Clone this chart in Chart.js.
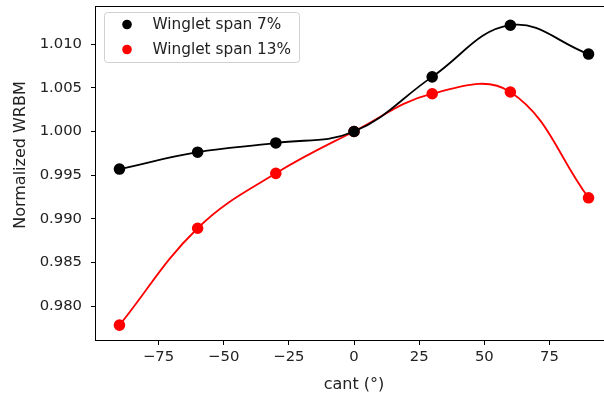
<!DOCTYPE html>
<html>
<head>
<meta charset="utf-8">
<script src="https://cdn.jsdelivr.net/npm/chart.js@4"></script>
<style>
  html, body { margin: 0; padding: 0; background: #fff; overflow: hidden; }
  #wrap { width: 620px; height: 398px; }
</style>
</head>
<body>
<div id="wrap"><canvas id="chart" width="620" height="398"></canvas></div>
<script>
// cant angles (deg)
var cant = [-90, -60, -30, 0, 30, 60, 90];
// normalized WRBM
var span7 = [0.99570, 0.99763, 0.99869, 1.00000, 1.00625, 1.01216, 1.00886];
var span13 = [0.97784, 0.98893, 0.99521, 1.00000, 1.00432, 1.00452, 0.99241];
var seriesNames = ['Winglet span 7%', 'Winglet span 13%'];
var xTicks = [-75, -50, -25, 0, 25, 50, 75];
var yTicks = [0.980, 0.985, 0.990, 0.995, 1.000, 1.005, 1.010];

var FONT = "'DejaVu Sans', sans-serif";
var textColor = '#222';

function toPoints(xs, ys) {
  return xs.map(function (x, i) { return { x: x, y: ys[i] }; });
}

// frame, y label and legend, drawn like matplotlib
var mplExtras = {
  id: 'mplExtras',
  afterDraw: function (chart) {
    var ctx = chart.ctx;
    var a = chart.chartArea;
    ctx.save();
    ctx.strokeStyle = '#000';
    ctx.lineWidth = 1;
    ctx.strokeRect(Math.round(a.left) - 0.5, Math.round(a.top) - 0.5,
      Math.round(a.right - a.left) + 1, Math.round(a.bottom - a.top) + 1);

    // y axis label
    ctx.save();
    ctx.translate(21, 155);
    ctx.rotate(-Math.PI / 2);
    ctx.font = '16px ' + FONT;
    ctx.fillStyle = textColor;
    ctx.textAlign = 'center';
    ctx.textBaseline = 'middle';
    ctx.fillText('Normalized WRBM', 0, 0);
    ctx.restore();

    // legend box
    var bx = 104.5, by = 12.5, bw = 195, bh = 50, r = 3;
    ctx.beginPath();
    ctx.moveTo(bx + r, by);
    ctx.arcTo(bx + bw, by, bx + bw, by + bh, r);
    ctx.arcTo(bx + bw, by + bh, bx, by + bh, r);
    ctx.arcTo(bx, by + bh, bx, by, r);
    ctx.arcTo(bx, by, bx + bw, by, r);
    ctx.closePath();
    ctx.fillStyle = 'rgba(255,255,255,0.8)';
    ctx.fill();
    ctx.strokeStyle = '#d0d0d0';
    ctx.stroke();

    ctx.font = '15.3px ' + FONT;
    ctx.textAlign = 'left';
    ctx.textBaseline = 'middle';
    chart.data.datasets.forEach(function (ds, i) {
      var yy = 24.5 + i * 25;
      ctx.beginPath();
      ctx.arc(127, yy, 4.8, 0, Math.PI * 2);
      ctx.fillStyle = ds.pointBackgroundColor;
      ctx.fill();
      ctx.fillStyle = textColor;
      ctx.fillText(ds.label, 152.5, yy + 1);
    });
    ctx.restore();
  }
};

new Chart(document.getElementById('chart'), {
  type: 'line',
  data: {
    datasets: [{
      label: seriesNames[0],
      data: toPoints(cant, span7),
      borderColor: '#000000',
      backgroundColor: '#000000',
      pointBackgroundColor: '#000000',
      pointBorderColor: '#000000',
      borderWidth: 1.8,
      pointRadius: 4.9,
      tension: 0.4,
      fill: false
    }, {
      label: seriesNames[1],
      data: toPoints(cant, span13),
      borderColor: '#ff0000',
      backgroundColor: '#ff0000',
      pointBackgroundColor: '#ff0000',
      pointBorderColor: '#ff0000',
      borderWidth: 1.8,
      pointRadius: 4.9,
      tension: 0.4,
      fill: false
    }]
  },
  options: {
    responsive: false,
    animation: false,
    layout: { padding: { left: 0, top: 4, right: 8, bottom: 0 } },
    plugins: {
      legend: { display: false },
      tooltip: { enabled: false }
    },
    scales: {
      x: {
        type: 'linear',
        min: -99,
        max: 99,
        afterBuildTicks: function (scale) {
          scale.ticks = xTicks.map(function (v) { return { value: v }; });
        },
        afterFit: function (scale) {
          scale.height = 58;
          scale.paddingLeft = 0;
          scale.paddingRight = 0;
        },
        grid: { display: true, drawOnChartArea: false, drawTicks: true, tickLength: 5, tickColor: '#000' },
        border: { display: false },
        ticks: {
          color: textColor,
          padding: 3,
          maxRotation: 0,
          font: { family: FONT, size: 14.8 },
          callback: function (v) { return v < 0 ? '\u2212' + Math.abs(v) : String(v); }
        },
        title: {
          display: true,
          text: 'cant (°)',
          color: textColor,
          font: { family: FONT, size: 16 },
          padding: { top: 0, bottom: 4 }
        }
      },
      y: {
        type: 'linear',
        min: 0.97614,
        max: 1.01428,
        afterBuildTicks: function (scale) {
          scale.ticks = yTicks.map(function (v) { return { value: v }; });
        },
        afterFit: function (scale) {
          scale.width = 96;
          scale.paddingTop = 0;
          scale.paddingBottom = 0;
        },
        grid: { display: true, drawOnChartArea: false, drawTicks: true, tickLength: 5, tickColor: '#000' },
        border: { display: false },
        ticks: {
          color: textColor,
          padding: 9,
          font: { family: FONT, size: 14.8 },
          callback: function (v) { return Number(v).toFixed(3); }
        }
      }
    }
  },
  plugins: [mplExtras]
});
</script>
</body>
</html>
